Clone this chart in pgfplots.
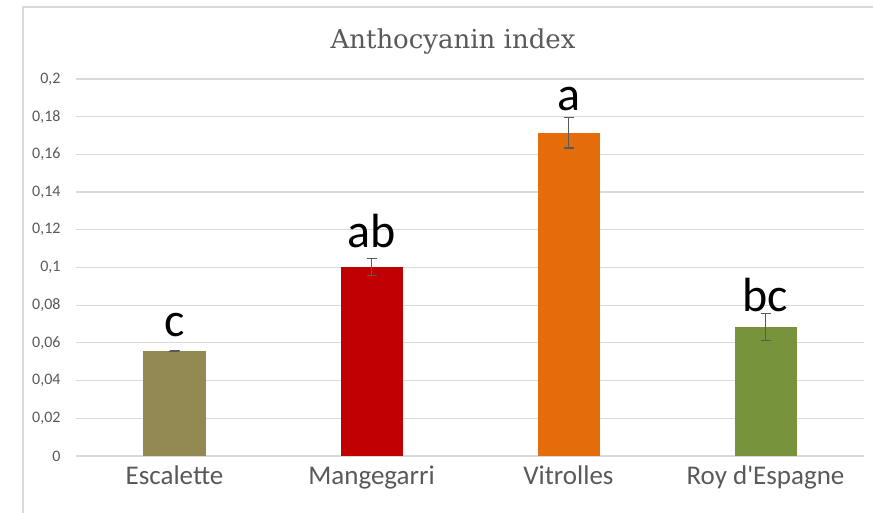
\documentclass[border=0pt]{standalone}
\usepackage{pgfplots}
\pgfplotsset{compat=1.18}
\usepackage{fontspec}
\setmainfont{Carlito}
\newfontfamily\titlefont{DejaVu Serif}
\definecolor{txt}{HTML}{595959}
\definecolor{gridc}{HTML}{D9D9D9}
\definecolor{c1}{HTML}{938953}
\definecolor{c2}{HTML}{C00000}
\definecolor{c3}{HTML}{E46C0A}
\definecolor{c4}{HTML}{77933C}
\newcommand{\sq}{\XeTeXglyph\XeTeXcharglyph"0027\relax}
\begin{document}
\begin{tikzpicture}[x=1pt,y=1pt]
\path[use as bounding box] (0,0) rectangle (873,513);
\draw[gridc, line width=1.2pt] (23,-20) -- (23,506) -- (900,506);
\node[txt, font=\titlefont\fontsize{26}{30}\selectfont] at (453,471) {Anthocyanin index};
\begin{axis}[
  at={(76pt,57pt)}, anchor=south west,
  scale only axis, width=788pt, height=377pt,
  xmin=-0.5, xmax=3.5, ymin=0, ymax=0.2,
  axis line style={draw=none},
  ytick={0,0.02,0.04,0.06,0.08,0.1,0.12,0.14,0.16,0.18,0.2},
  yticklabels={0,{0,02},{0,04},{0,06},{0,08},{0,1},{0,12},{0,14},{0,16},{0,18},{0,2}},
  ymajorgrids, xmajorgrids=false, grid style={gridc, line width=1.2pt},
  major tick length=0pt,
  xtick={0,1,2,3},
  xticklabels={Escalette, Mangegarri, Vitrolles, Roy d\sq Espagne},
  xticklabel style={txt, font=\fontsize{27}{31}\selectfont, yshift=-6pt},
  yticklabel style={txt, font=\fontsize{16}{18}\selectfont, xshift=-12pt},
  scaled y ticks=false,
  ybar, bar width=62pt, bar shift=0pt,
  error bars/error bar style={txt, line width=1.2pt},
  error bars/error mark options={rotate=90, txt, line width=1.2pt, mark size=5pt},
  clip=false,
]
\addplot[fill=c1, draw=none, error bars/.cd, y dir=both, y explicit] coordinates {(0,0.0557) +- (0,0.0003)};
\addplot[fill=c2, draw=none, error bars/.cd, y dir=both, y explicit] coordinates {(1,0.1003) +- (0,0.0045)};
\addplot[fill=c3, draw=none, error bars/.cd, y dir=both, y explicit] coordinates {(2,0.1714) +- (0,0.008)};
\addplot[fill=c4, draw=none, error bars/.cd, y dir=both, y explicit] coordinates {(3,0.0684) +- (0,0.007)};
\node[font=\fontsize{48}{52}\selectfont] at (axis cs:0,0.0695) {c};
\node[font=\fontsize{48}{52}\selectfont] at (axis cs:1,0.1195) {ab};
\node[font=\fontsize{48}{52}\selectfont] at (axis cs:2,0.1895) {a};
\node[font=\fontsize{48}{52}\selectfont] at (axis cs:3,0.0855) {bc};
\end{axis}
\end{tikzpicture}
\end{document}
